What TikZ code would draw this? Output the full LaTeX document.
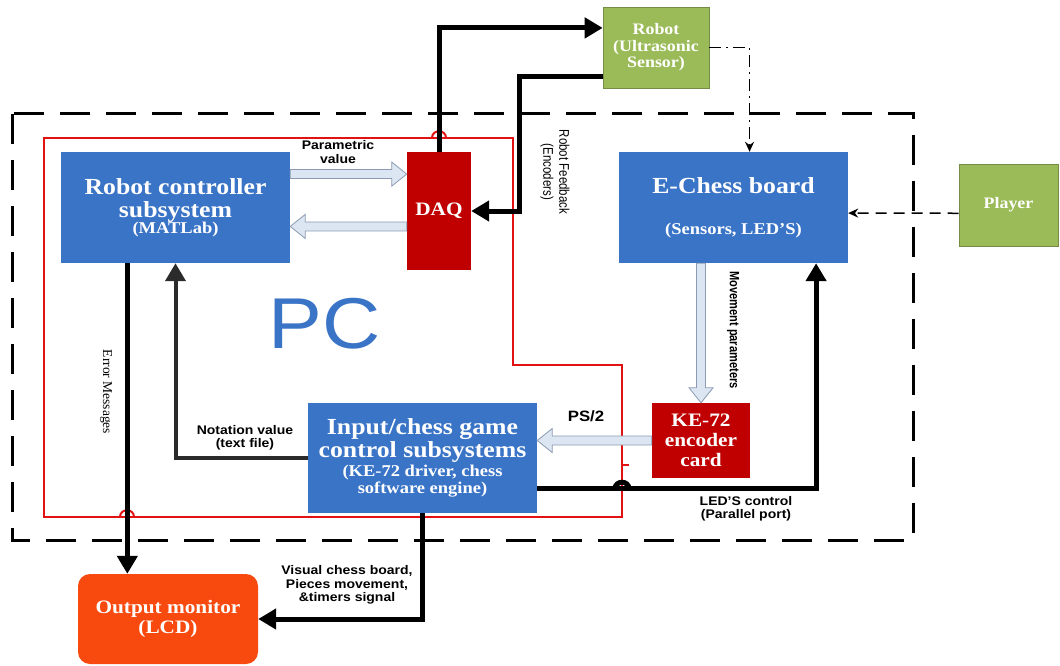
\documentclass[tikz,border=0pt]{standalone}
\usepackage{fontspec}
\setmainfont{Liberation Serif}[FakeStretch=1.12]
\setsansfont{Liberation Sans}[FakeStretch=1.12]
\newfontfamily\sidesans{Liberation Sans}[FakeStretch=0.82]
\newfontfamily\sideserif{Liberation Serif}
\usetikzlibrary{arrows.meta}
\usetikzlibrary{calc}
\usetikzlibrary{positioning}

\definecolor{boxblue}{HTML}{3A74C6}
\definecolor{daqred}{HTML}{C00000}
\definecolor{leafgreen}{HTML}{9BBB59}
\definecolor{lcdorange}{HTML}{F84A0E}
\definecolor{hollowfill}{HTML}{DCE6F2}
\definecolor{hollowline}{HTML}{8C9BB3}
\definecolor{pcred}{HTML}{E21212}
\definecolor{wiregray}{HTML}{2B2B2B}

\tikzset{
  block/.style={fill=boxblue, text=white, align=center, inner sep=0pt,
    font=\bfseries\fontsize{23}{23}\selectfont},
  card/.style={block, fill=daqred, font=\bfseries\fontsize{19}{20}\selectfont},
  greenbox/.style={block, fill=leafgreen, draw=leafgreen!75!black, line width=0.6pt,
    font=\bfseries\fontsize{16}{16.5}\selectfont},
  tag/.style={align=center, inner sep=0pt, font=\sffamily\bfseries\fontsize{12.5}{13.5}\selectfont},
  wire/.style={line width=5pt, -{Triangle[length=18pt,width=20pt]}},
  hint/.style={line width=1.5pt, dash pattern=on 11pt off 7pt, -{Stealth[length=10pt,width=9pt]}},
  hollow/.style={draw=hollowline, fill=hollowfill, line width=0.8pt, line join=miter},
}

% hollow block arrow between two points
\newcommand\blockarrow[2]{%
  \draw[hollow] let \p1=(#1), \p2=(#2),
    \n1={veclen(\x2-\x1,\y2-\y1)}, \n2={(\x2-\x1)/\n1}, \n3={(\y2-\y1)/\n1},
    \p3=({\x2-(\n2)*15pt},{\y2-(\n3)*15pt}) in
    ({\x1-(\n3)*4.5pt},{\y1+(\n2)*4.5pt}) --
    ({\x3-(\n3)*4.5pt},{\y3+(\n2)*4.5pt}) --
    ({\x3-(\n3)*12pt},{\y3+(\n2)*12pt}) --
    (\p2) --
    ({\x3+(\n3)*12pt},{\y3-(\n2)*12pt}) --
    ({\x3+(\n3)*4.5pt},{\y3-(\n2)*4.5pt}) --
    ({\x1+(\n3)*4.5pt},{\y1-(\n2)*4.5pt}) -- cycle;}

\begin{document}
\begin{tikzpicture}[x=1pt,y=-1pt]
\useasboundingbox (0,0) rectangle (1060,666);

% system and PC frames
\draw[line width=3pt, dash pattern=on 30pt off 16pt] (12,114) rectangle (913,540);
\draw[pcred, line width=2pt] (44,138) -- (513,138) -- (513,365) -- (622,365) -- (622,517) -- (44,517) -- cycle;
\draw[pcred, line width=2pt] (622,465) -- (629,465);
% line hops
\draw[pcred, line width=2pt] (432,138) .. controls (432,129) and (446,129) .. (446,138);
\draw[pcred, line width=2pt] (120,517) .. controls (120,508) and (134,508) .. (134,517);

% blocks
\node[block, minimum width=229pt, minimum height=111pt] (rcs) at (175.5,207.5)
  {Robot controller\\subsystem\\[-7pt]{\fontsize{16.5}{17}\selectfont (MATLab)}};
\node[card, minimum width=64pt, minimum height=118pt] (daq) at (439,211) {DAQ};
\node[block, minimum width=229pt, minimum height=111pt] (ecb) at (733.5,207.5)
  {E-Chess board\\[18pt]{\fontsize{16.5}{17}\selectfont (Sensors, LED'S)}};
\node[greenbox, minimum width=106pt, minimum height=81pt] (robot) at (656,47.5)
  {Robot\\(Ultrasonic\\Sensor)};
\node[greenbox, minimum width=99pt, minimum height=82pt] (player) at (1008.5,205) {Player};
\node[block, minimum width=229pt, minimum height=110pt] (inp) at (422.5,458)
  {Input/chess game\\control subsystems\\[-4pt]{\fontsize{16.5}{17}\selectfont (KE-72 driver, chess}\\[-6pt]{\fontsize{16.5}{17}\selectfont software engine)}};
\node[card, minimum width=98pt, minimum height=75pt] (ke) at (701,440.5)
  {KE-72\\encoder\\card};
\node[block, fill=lcdorange, rounded corners=12pt, minimum width=180pt, minimum height=90pt,
  font=\bfseries\fontsize{19}{20}\selectfont] (lcd) at (168,619) {Output monitor\\(LCD)};

\node[text=boxblue, font=\sffamily\fontsize{72}{72}\selectfont] (pc) at (325,324) {PC};

% hollow data arrows
\coordinate (pvout) at ($(rcs.north east)!0.2!(rcs.south east)$);
\coordinate (pvin) at ($(rcs.north east)!0.67!(rcs.south east)$);
\blockarrow{pvout}{pvout -| daq.west}
\blockarrow{pvin -| daq.west}{pvin}
\blockarrow{ke.north |- ecb.south}{ke.north}
\blockarrow{ke.west}{ke.west -| inp.east}

% thick connectors
\draw[wire] (daq.north) |- ($(robot.north west)!0.26!(robot.south west)$);
\draw[wire] ($(robot.north west)!0.85!(robot.south west)$) -| ($(daq.east)+(48,0)$) -- (daq.east);
\coordinate (err) at ($(rcs.south west)!0.29!(rcs.south east)$);
\draw[wire] (err) -- (err |- lcd.north);
\draw[wire, line width=4pt, draw=wiregray] (inp.west) -| (rcs.south);
\draw[wire] (inp.south) |- (lcd.east);
\coordinate (led) at ($(inp.north east)!0.78!(inp.south east)$);
\draw[wire] (led) -| ($(ecb.south west)!0.86!(ecb.south east)$);
\draw[line width=5pt] (615,489) .. controls (615,480) and (629,480) .. (629,489);

% dashed links
\draw[hint] ($(player.north west)!0.6!(player.south west)$) -- ($(ecb.north east)!0.55!(ecb.south east)$);
\draw[hint, dash pattern=on 12pt off 5pt on 2pt off 5pt] (robot.east) -| ($(ecb.north west)!0.57!(ecb.north east)$);

% labels
\node[tag] (pvlabel) at (338,152) {Parametric\\value};
\node[tag, font=\sffamily\bfseries\fontsize{15}{16}\selectfont] (pslabel) at (586,416) {PS/2};
\node[tag] (ledlabel) at (746,509) {LED'S control\\(Parallel port)};
\node[tag] (vislabel) at (347,585) {Visual chess board,\\Pieces movement,\\\&timers signal};
\node[tag] (notlabel) at (245,438) {Notation value\\(text file)};
\node[tag, rotate=-90, font=\sidesans\fontsize{14}{16}\selectfont] (fblabel) at (555,172) {Robot Feedback\\(Encoders)};
\node[tag, rotate=-90, font=\sidesans\bfseries\fontsize{13.5}{14}\selectfont] (mplabel) at (733,330) {Movement parameters};
\node[rotate=-90, inner sep=0pt, font=\sideserif\fontsize{13.5}{15}\selectfont] (emlabel) at (106,392) {Error Messages};
\end{tikzpicture}
\end{document}
